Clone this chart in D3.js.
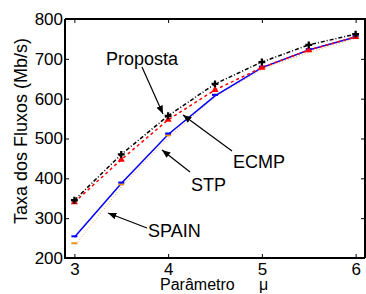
<!DOCTYPE html>
<html>
<head>
<meta charset="utf-8">
<script src="https://cdn.jsdelivr.net/npm/d3@7"></script>
<style>
  body { margin: 0; background: #fff; }
  svg text { font-family: "Liberation Sans", Arial, sans-serif; fill: #000; }
</style>
</head>
<body>
<svg id="chart" width="366" height="294"></svg>
<script>
// values
const mu = [3, 3.5, 4, 4.5, 5, 5.5, 6];
const proposta = [345, 460, 557, 637, 692, 735, 762];
const ecmp = [340, 447, 547, 622, 678, 722, 755];
const stp = [252, 387, 510, 607, 678, 722, 755];
const spain = [237, 385, 508, 610, 678, 720, 755];
const xTicks = [3, 4, 5, 6];
const yTicks = [200, 300, 400, 500, 600, 700, 800];

const margin = { top: 19, right: 1, bottom: 36, left: 65 };
const W = 366, H = 294;
const width = W - margin.left - margin.right;
const height = H - margin.top - margin.bottom;

const svg = d3.select('#chart');
const chart = svg.append('g').attr('transform', `translate(${margin.left},${margin.top})`);

const x = d3.scaleLinear().domain([2.9, 6.1]).range([0, width]);
const y = d3.scaleLinear().domain([200, 800]).range([height, 0]);

// axes, matlab style: ticks point inward, box on all sides
const styleAxis = g => {
  g.select('.domain').remove();
  g.selectAll('line').attr('stroke', '#000').attr('stroke-width', 1);
  g.selectAll('text').style('font-size', '17px');
};
chart.append('g').attr('transform', `translate(0,${height})`)
  .call(d3.axisBottom(x).tickValues(xTicks).tickSize(-4).tickPadding(5).tickFormat(d3.format('d')))
  .call(styleAxis);
chart.append('g')
  .call(d3.axisLeft(y).tickValues(yTicks).tickSize(-4).tickPadding(2))
  .call(styleAxis);
chart.append('g')
  .call(d3.axisTop(x).tickValues(xTicks).tickSize(-4).tickFormat(''))
  .call(styleAxis);
chart.append('g').attr('transform', `translate(${width},0)`)
  .call(d3.axisRight(y).tickValues(yTicks).tickSize(-4).tickFormat(''))
  .call(styleAxis);

chart.append('path')
  .attr('d', `M0,0V${height}H${width}M0,0H${width}V${height}`)
  .attr('fill', 'none').attr('stroke', '#000').attr('stroke-width', 2);

const line = d3.line().x((d, i) => x(mu[i])).y(d => y(d));

// SPAIN (thin orange dotted, mostly hidden under STP)
chart.append('path').datum(spain).attr('d', line)
  .attr('fill', 'none').attr('stroke', '#f0a040').attr('stroke-width', 1)
  .attr('stroke-dasharray', '1,2').attr('transform', 'translate(1.5,1)');
// STP
chart.append('path').datum(stp).attr('d', line)
  .attr('fill', 'none').attr('stroke', '#0000ff').attr('stroke-width', 1.5);
// ECMP
chart.append('path').datum(ecmp).attr('d', line)
  .attr('fill', 'none').attr('stroke', '#ff0000').attr('stroke-width', 1.5)
  .attr('stroke-dasharray', '3,3');
// Proposta
chart.append('path').datum(proposta).attr('d', line)
  .attr('fill', 'none').attr('stroke', '#000').attr('stroke-width', 1.5)
  .attr('stroke-dasharray', '4,2,1,2');

// markers
chart.selectAll('.m-spain').data(spain).enter().append('rect')
  .attr('x', (d, i) => x(mu[i]) - 3).attr('y', d => y(d) - 1)
  .attr('width', 6).attr('height', 2).attr('fill', '#e8901c');
chart.selectAll('.m-stp').data(stp).enter().append('rect')
  .attr('x', (d, i) => x(mu[i]) - 3).attr('y', d => y(d) - 2)
  .attr('width', 6).attr('height', 2).attr('fill', '#0000ff');
chart.selectAll('.m-ecmp').data(ecmp).enter().append('path')
  .attr('transform', (d, i) => `translate(${x(mu[i])},${y(d)})`)
  .attr('d', d3.symbol(d3.symbolTriangle, 22)).attr('fill', '#ff0000');
chart.selectAll('.m-prop').data(proposta).enter().append('path')
  .attr('transform', (d, i) => `translate(${x(mu[i])},${y(d)})`)
  .attr('d', d3.symbol(d3.symbolCross, 26)).attr('fill', '#000');

// annotations with arrows
svg.append('defs').append('marker')
  .attr('id', 'arrow').attr('viewBox', '0 0 10 10').attr('refX', 10).attr('refY', 5)
  .attr('markerWidth', 7).attr('markerHeight', 7).attr('orient', 'auto-start-reverse')
  .append('path').attr('d', 'M0,1L10,5L0,9Z').attr('fill', '#000');

const notes = [
  { text: 'Proposta', tx: 106, ty: 65, from: [142, 67], to: [163, 114] },
  { text: 'ECMP', tx: 233, ty: 168, from: [232, 151], to: [183, 115] },
  { text: 'STP', tx: 191, ty: 191, from: [190, 172], to: [162, 150] },
  { text: 'SPAIN', tx: 148, ty: 237, from: [147, 228], to: [108, 213] }
];
notes.forEach(n => {
  svg.append('line')
    .attr('x1', n.from[0]).attr('y1', n.from[1]).attr('x2', n.to[0]).attr('y2', n.to[1])
    .attr('stroke', '#000').attr('stroke-width', 1.2).attr('marker-end', 'url(#arrow)');
  svg.append('text').attr('x', n.tx).attr('y', n.ty).style('font-size', '18px').text(n.text);
});

// axis titles
svg.append('text')
  .attr('transform', 'translate(27,131) rotate(-90)')
  .attr('text-anchor', 'middle').style('font-size', '18px')
  .text('Taxa dos Fluxos (Mb/s)');
svg.append('text').attr('x', 160).attr('y', 290).style('font-size', '16px')
  .text('Parâmetro');
svg.append('text').attr('x', 259).attr('y', 290).style('font-size', '16px')
  .text('μ');
</script>
</body>
</html>
